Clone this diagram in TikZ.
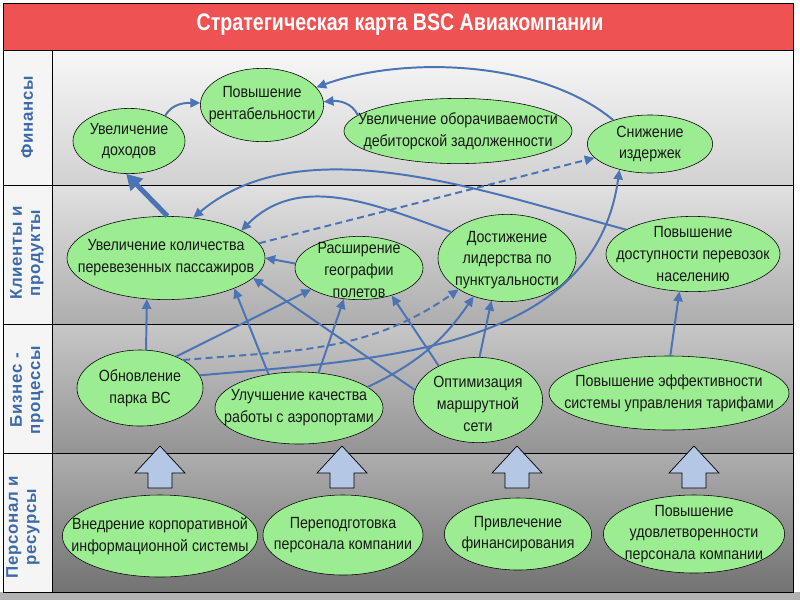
\documentclass[tikz,border=0pt]{standalone}
\usepackage{fontspec}
\setmainfont{Liberation Sans}
\newfontfamily\goalfont{Liberation Sans}[FakeStretch=0.88]
\newfontfamily\titlefont{Liberation Sans}[FakeStretch=0.82]
\newfontfamily\rowfont{Liberation Sans}[LetterSpace=4]
\usetikzlibrary{shapes.geometric,arrows.meta}

\definecolor{goalgreen}{HTML}{9CEC92}
\definecolor{linkblue}{HTML}{4A74B4}
\definecolor{titlered}{HTML}{EE5252}
\definecolor{rowblue}{HTML}{3D6AA8}
\definecolor{blockblue}{HTML}{B4C8E6}

\tikzset{
  goal/.style={ellipse, draw=black, fill=goalgreen, inner sep=0pt},
  goaltext/.style={align=center, inner sep=0pt, text=black!90, font=\goalfont\fontsize{11.5}{15.5}\selectfont},
  link/.style={draw=linkblue, line width=1.4pt, -{Triangle[length=7pt,width=6.5pt]}},
  dlink/.style={link, dash pattern=on 5pt off 3pt},
  rowlabel/.style={rotate=90, align=center, text=rowblue, font=\rowfont\bfseries\fontsize{12}{13}\selectfont},
}

\begin{document}
\begin{tikzpicture}[x=0.025cm, y=-0.025cm]
\useasboundingbox (0,0) rectangle (800,600);
% Background, title and rows:
\fill[white] (0,0) rectangle (800,600);
\fill[black!30] (0,592) rectangle (800,600);
\fill[titlered] (3,3) rectangle (793,50);
\fill[black!4] (3,50) rectangle (52,592);
\shade[top color=black!3, bottom color=black!18] (52,50) rectangle (793,185);
\shade[top color=black!12, bottom color=black!32] (52,185) rectangle (793,324);
\shade[top color=black!22, bottom color=black!42] (52,324) rectangle (793,453);
\shade[top color=black!32, bottom color=black!55] (52,453) rectangle (793,592);
\draw (3,3) rectangle (793,592);
\draw (3,50) -- (793,50);
\draw (3,185) -- (793,185);
\draw (3,324) -- (793,324);
\draw (3,453) -- (793,453);
\draw (52,50) -- (52,592);
\node[text=white, font=\titlefont\bfseries\fontsize{17}{20}\selectfont] (title) at (400,25) {Стратегическая карта BSC Авиакомпании};
\node[rowlabel] (finlbl) at (27,117) {Финансы};
\node[rowlabel] (clilbl) at (27,253) {Клиенты и\\продукты};
\node[rowlabel] (buslbl) at (27,390) {Бизнес -\\процессы};
\node[rowlabel] (perlbl) at (23,527) {Персонал и\\ресурсы};

% Block arrows from the personnel row:
\foreach \ax in {160,342,517,694}
  \filldraw[fill=blockblue, draw=black, line width=0.5pt] (\ax,446) -- (\ax+25,473) -- (\ax+12,473) -- (\ax+12,488) -- (\ax-12,488) -- (\ax-12,473) -- (\ax-25,473) -- cycle;

% Goals:
\node[goal, minimum width=2.8cm, minimum height=1.63cm] (dohod) at (129,141) {};
\node[goaltext] (dohodtxt) at (dohod) {Увеличение\\доходов};
\node[goal, minimum width=3.08cm, minimum height=1.83cm] (rent) at (262,105) {};
\node[goaltext] (renttxt) at (rent) {Повышение\\рентабельности};
\node[goal, minimum width=5.7cm, minimum height=1.63cm] (oborot) at (458,131) {};
\node[goaltext] (oborottxt) at (oborot) {Увеличение оборачиваемости\\дебиторской задолженности};
\node[goal, minimum width=3.13cm, minimum height=1.45cm] (izderzh) at (650,144) {};
\node[goaltext] (izderzhtxt) at (izderzh) {Снижение\\издержек};

\node[goal, minimum width=4.95cm, minimum height=2.08cm] (pass) at (166,258) {};
\node[goaltext] (passtxt) at (pass) {Увеличение количества\\перевезенных пассажиров};
\node[goal, minimum width=3.2cm, minimum height=1.58cm] (geo) at (359,268) {};
\node[goaltext] (geotxt) at (359,270) {Расширение\\географии\\полетов};
\node[goal, minimum width=3.45cm, minimum height=2.18cm] (lider) at (507,258) {};
\node[goaltext] (lidertxt) at (507,260) {Достижение\\лидерства по\\пунктуальности};
\node[goal, minimum width=4.35cm, minimum height=1.88cm] (dostup) at (693,254) {};
\node[goaltext] (dostuptxt) at (dostup) {Повышение\\доступности перевозок\\населению};

\node[goal, minimum width=3.15cm, minimum height=1.9cm] (park) at (140,388) {};
\node[goaltext] (parktxt) at (park) {Обновление\\парка ВС};
\node[goal, minimum width=4.2cm, minimum height=1.8cm] (airport) at (299,408) {};
\node[goaltext] (airporttxt) at (airport) {Улучшение качества\\работы с аэропортами};
\node[goal, minimum width=3.23cm, minimum height=2.13cm] (marsh) at (478,400) {};
\node[goaltext] (marshtxt) at (478,404) {Оптимизация\\маршрутной\\сети};
\node[goal, minimum width=6.0cm, minimum height=1.85cm] (tarif) at (669,393) {};
\node[goaltext] (tariftxt) at (tarif) {Повышение эффективности\\системы управления тарифами};

\node[goal, minimum width=4.88cm, minimum height=2.05cm] (kis) at (160,536) {};
\node[goaltext] (kistxt) at (kis) {Внедрение корпоративной\\информационной системы};
\node[goal, minimum width=4.0cm, minimum height=2.0cm] (pere) at (343,535) {};
\node[goaltext] (peretxt) at (pere) {Переподготовка\\персонала компании};
\node[goal, minimum width=3.68cm, minimum height=1.8cm] (fin) at (518,534) {};
\node[goaltext] (fintxt) at (fin) {Привлечение\\финансирования};
\node[goal, minimum width=4.53cm, minimum height=1.95cm] (udov) at (694,534) {};
\node[goaltext] (udovtxt) at (udov) {Повышение\\удовлетворенности\\персонала компании};

% Links:
\draw[link] (dohod.35) to[out=60, in=180] (rent.178);
\draw[link] (oborot.171) to[out=115, in=5] (rent.3);
\draw[link] (izderzh.147) to[out=140, in=20, looseness=0.8] (rent.18);
\draw[link, line width=3.5pt, -{Triangle[length=11pt,width=12pt]}] (pass.88) -- (dohod.265);
\draw[link] (dostup.160) to[out=165, in=40, looseness=0.85] (pass.56);
\draw[link] (lider.155) to[out=160, in=45] (pass.20);
\draw[dlink] (pass.9) -- (izderzh.194);
\draw[link] (park.81) -- (pass.245);
\draw[link] (park.41) -- (geo.204);
\draw[link] (park.12) to[out=5, in=262] (izderzh.220);
\draw[dlink] (park.33) to[out=5, in=215] (lider.213);
\draw[link] (airport.132) -- (pass.336);
\draw[link] (airport.61) -- (geo.244);
\draw[link] (airport.17) to[bend right=15] (lider.229);
\draw[link] (marsh.171) -- (pass.347);
\draw[link] (marsh.139) -- (geo.320);
\draw[link] (marsh.88) -- (lider.250);
\draw[link] (tarif.88) -- (dostup.250);
\draw[link] (geo.176) -- (pass.0);
\end{tikzpicture}
\end{document}
